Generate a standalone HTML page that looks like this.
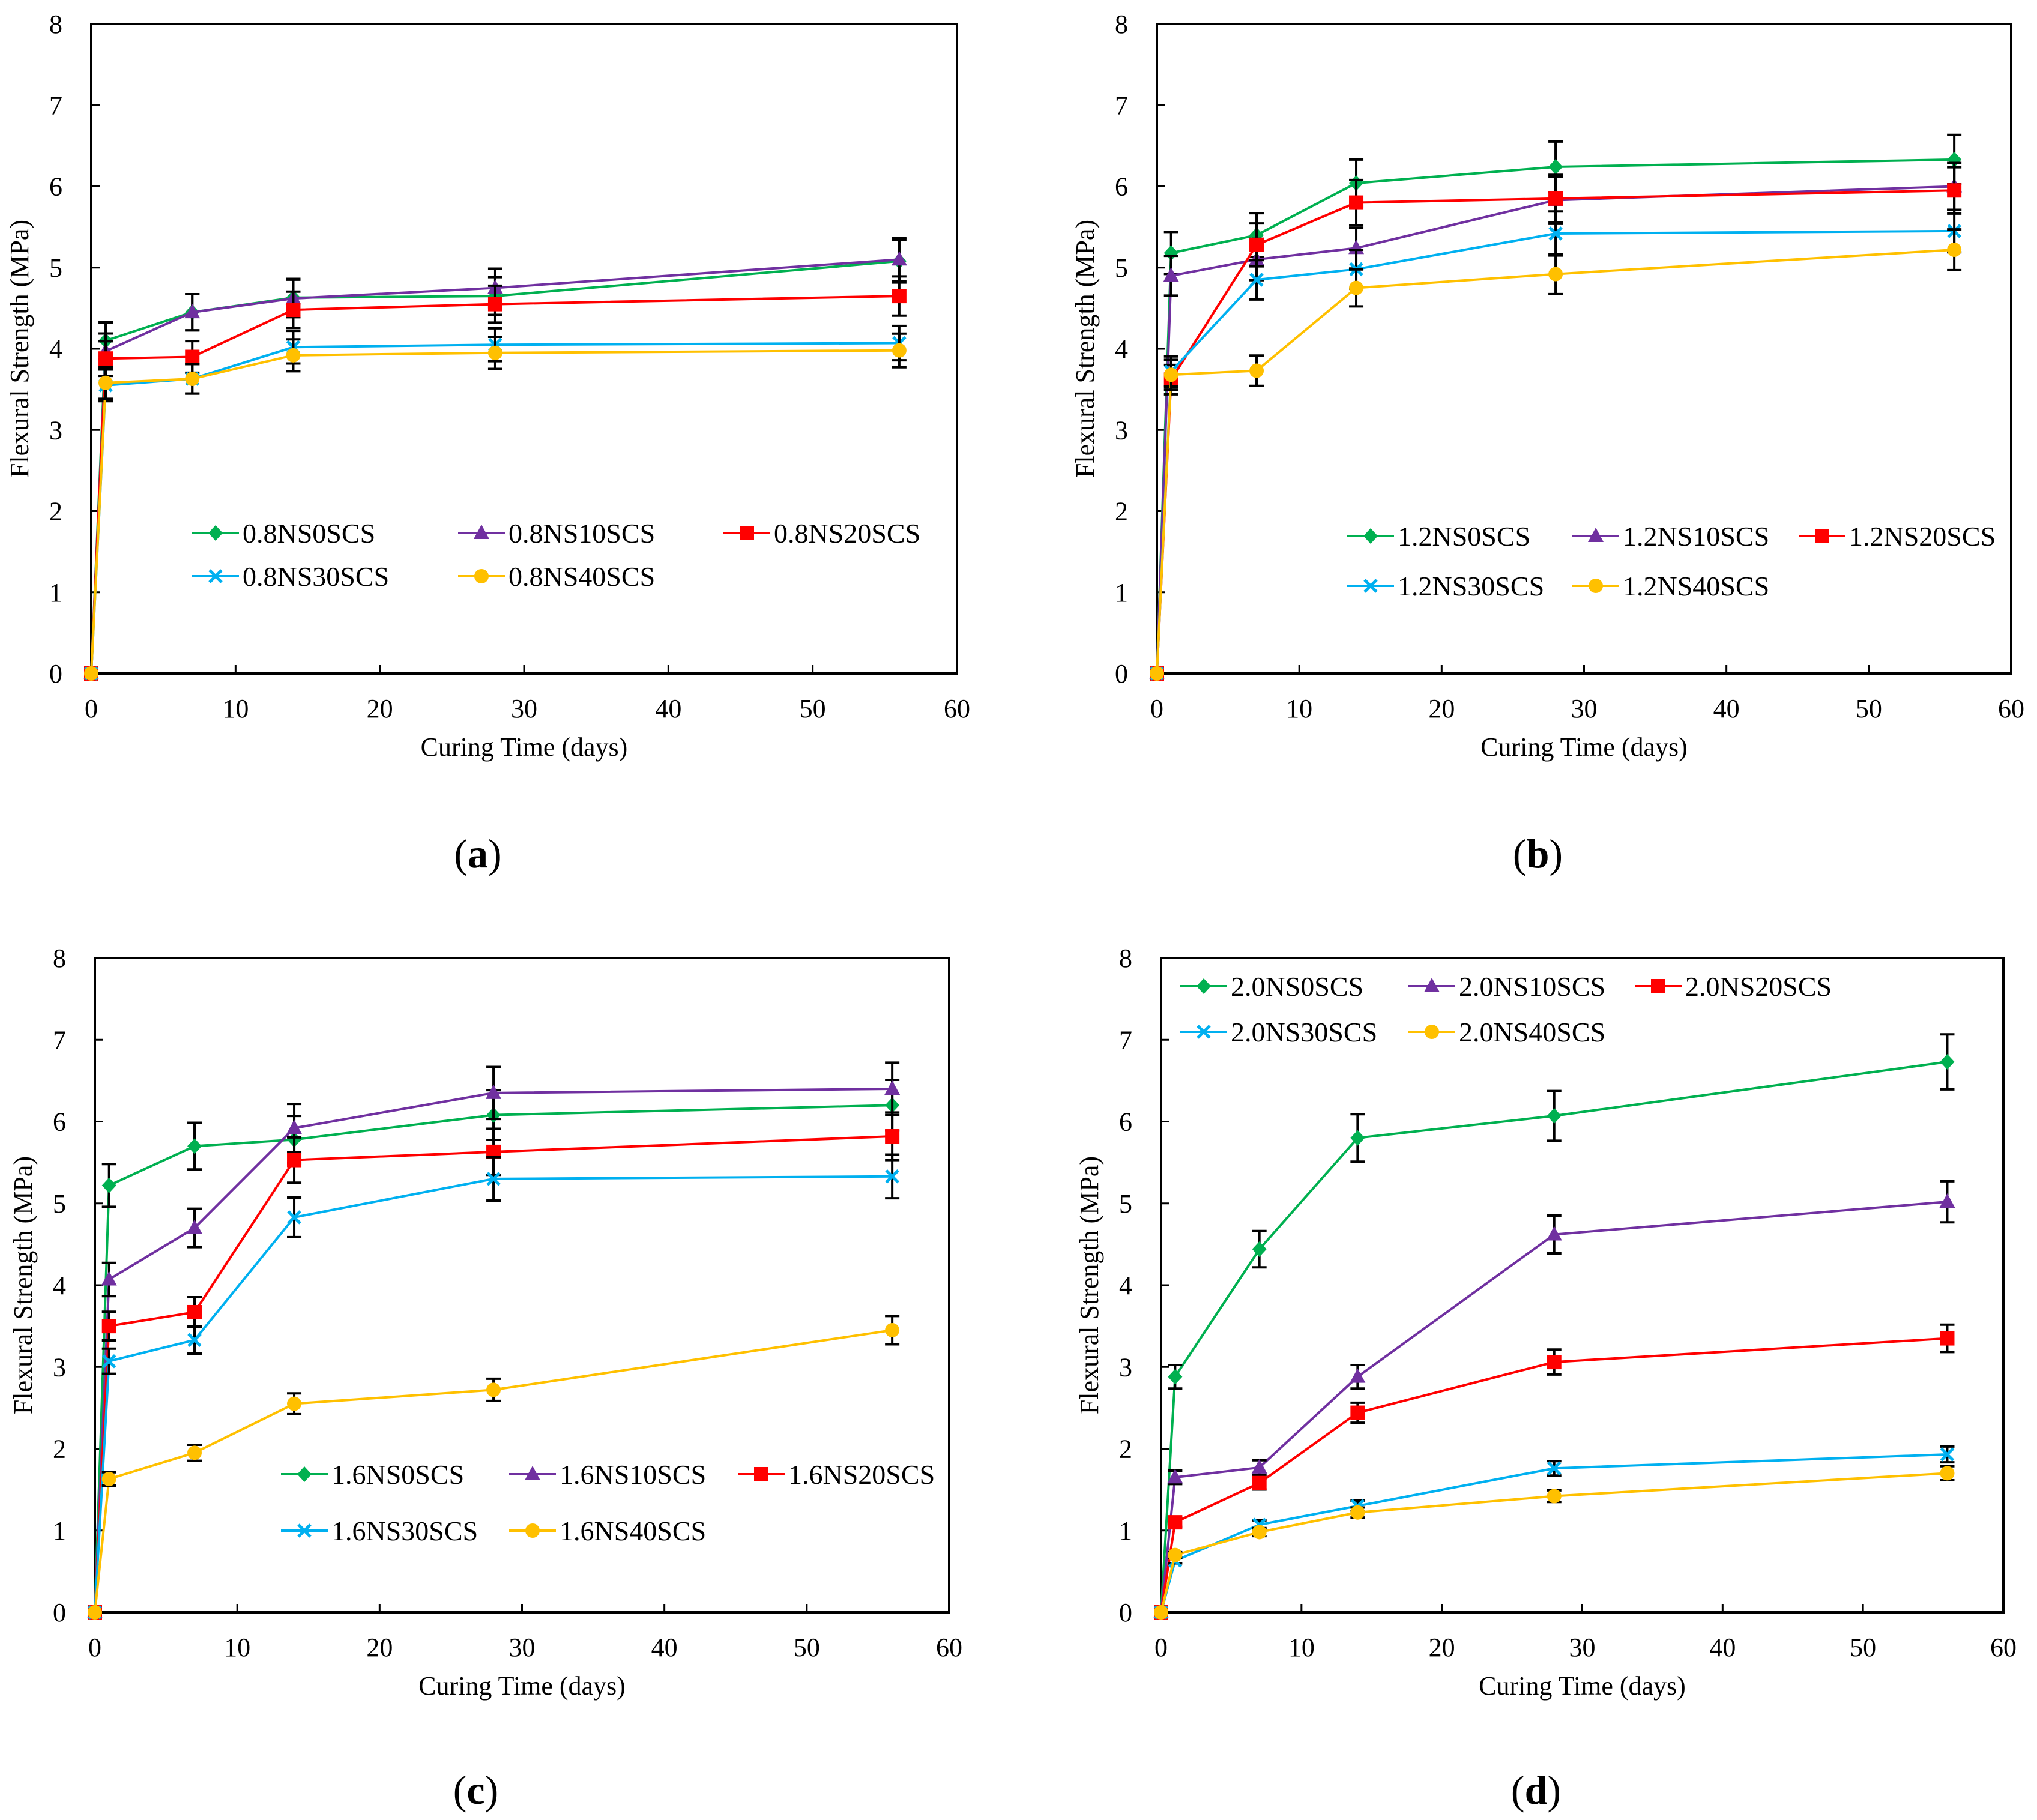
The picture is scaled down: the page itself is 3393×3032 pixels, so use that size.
<!DOCTYPE html>
<html><head><meta charset="utf-8"><style>
html,body{margin:0;padding:0;background:#fff;}
svg{display:block;font-family:"Liberation Serif",serif;}
</style></head><body>
<svg id="fig" width="3393" height="3032" viewBox="0 0 3393 3032" xmlns="http://www.w3.org/2000/svg"></svg>
<script>
const days = [0, 1, 7, 14, 28, 56];
const seriesSuffix = ["NS0SCS", "NS10SCS", "NS20SCS", "NS30SCS", "NS40SCS"];
const prefixA = "0.8", prefixB = "1.2", prefixC = "1.6", prefixD = "2.0";
const panelLetters = ["a", "b", "c", "d"];
const yTicks = [0, 1, 2, 3, 4, 5, 6, 7, 8];
const xTicks = [0, 10, 20, 30, 40, 50, 60];

const a_ns0  = [0, 4.10, 4.45, 4.63, 4.65, 5.08];
const a_ns10 = [0, 3.97, 4.45, 4.62, 4.75, 5.10];
const a_ns20 = [0, 3.88, 3.90, 4.48, 4.55, 4.65];
const a_ns30 = [0, 3.55, 3.63, 4.02, 4.05, 4.07];
const a_ns40 = [0, 3.58, 3.63, 3.92, 3.95, 3.98];
const a_errFrac = [0, 0.055, 0.05, 0.05, 0.05, 0.052];

const b_ns0  = [0, 5.18, 5.40, 6.04, 6.24, 6.33];
const b_ns10 = [0, 4.90, 5.10, 5.24, 5.83, 6.00];
const b_ns20 = [0, 3.62, 5.28, 5.80, 5.85, 5.95];
const b_ns30 = [0, 3.72, 4.85, 4.98, 5.42, 5.45];
const b_ns40 = [0, 3.68, 3.73, 4.75, 4.92, 5.22];
const b_errFrac = [0, 0.05, 0.05, 0.048, 0.05, 0.048];

const c_ns0  = [0, 5.22, 5.70, 5.78, 6.08, 6.20];
const c_ns10 = [0, 4.07, 4.70, 5.92, 6.35, 6.40];
const c_ns20 = [0, 3.50, 3.67, 5.53, 5.63, 5.82];
const c_ns30 = [0, 3.07, 3.33, 4.83, 5.30, 5.33];
const c_ns40 = [0, 1.63, 1.95, 2.55, 2.72, 3.45];
const c_errFrac = [0, 0.05, 0.05, 0.05, 0.05, 0.05];

const d_ns0  = [0, 2.88, 4.44, 5.80, 6.07, 6.73];
const d_ns10 = [0, 1.65, 1.77, 2.88, 4.62, 5.02];
const d_ns20 = [0, 1.10, 1.58, 2.44, 3.06, 3.35];
const d_ns30 = [0, 0.63, 1.07, 1.30, 1.76, 1.93];
const d_ns40 = [0, 0.70, 0.98, 1.22, 1.42, 1.70];
const d_errFrac = [0, 0.05, 0.05, 0.05, 0.05, 0.05];

const colors = ["#00b050", "#7030a0", "#ff0000", "#00b0f0", "#ffc000"];
const markers = ["diamond", "triangle", "square", "cross", "circle"];

const panels = [
  {pre: prefixA, data: [a_ns0,a_ns10,a_ns20,a_ns30,a_ns40], err: a_errFrac, L:152, R:1594, T:40, B:1122,
   legRows:[888,960], legCols:[320,763,1205], labelY:1445},
  {pre: prefixB, data: [b_ns0,b_ns10,b_ns20,b_ns30,b_ns40], err: b_errFrac, L:1927, R:3350, T:40, B:1122,
   legRows:[893,976], legCols:[2244,2619,2996], labelY:1445},
  {pre: prefixC, data: [c_ns0,c_ns10,c_ns20,c_ns30,c_ns40], err: c_errFrac, L:158, R:1581, T:1596, B:2686,
   legRows:[2456,2550], legCols:[468,848,1229], labelY:3005},
  {pre: prefixD, data: [d_ns0,d_ns10,d_ns20,d_ns30,d_ns40], err: d_errFrac, L:1934, R:3337, T:1596, B:2686,
   legRows:[1643,1719], legCols:[1966,2346,2723], labelY:3005}
];

const NS = "http://www.w3.org/2000/svg";
const svg = document.getElementById("fig");
function mk(tag, attrs, parent) {
  const e = document.createElementNS(NS, tag);
  for (const k in attrs) e.setAttribute(k, attrs[k]);
  (parent || svg).appendChild(e);
  return e;
}
function drawMarker(g, type, x, y, c) {
  let m;
  if (type === "diamond") m = mk("polygon", {points: `${x},${y-13} ${x+12},${y} ${x},${y+13} ${x-12},${y}`, fill: c}, g);
  else if (type === "triangle") m = mk("polygon", {points: `${x},${y-14} ${x+13},${y+10} ${x-13},${y+10}`, fill: c}, g);
  else if (type === "square") m = mk("rect", {x: x-12, y: y-12, width: 24, height: 24, fill: c}, g);
  else if (type === "circle") m = mk("circle", {cx: x, cy: y, r: 12, fill: c}, g);
  else {
    m = mk("path", {d: `M${x-10},${y-10}L${x+10},${y+10}M${x-10},${y+10}L${x+10},${y-10}`, stroke: c, "stroke-width": 5, fill: "none"}, g);
  }
  return m;
}

panels.forEach((p, pi) => {
  const g = mk("g", {});
  
  
  const xs = v => p.L + (v / 60) * (p.R - p.L);
  const ys = v => p.B - (v / 8) * (p.B - p.T);

  const frame = mk("rect", {x: p.L, y: p.T, width: p.R - p.L, height: p.B - p.T, fill: "none", stroke: "#000", "stroke-width": 4}, g);
  
  

  yTicks.forEach(t => {
    const y = ys(t);
    const tk = mk("line", {x1: p.L, x2: p.L + 14, y1: y, y2: y, stroke: "#000", "stroke-width": 3}, g);
    
    
    const lb = mk("text", {x: p.L - 48, y: y + 15, "font-size": 44, "text-anchor": "end", fill: "#000"}, g);
    lb.textContent = t;
    
    
  });
  xTicks.forEach(t => {
    const x = xs(t);
    const tk = mk("line", {x1: x, x2: x, y1: p.B, y2: p.B - 14, stroke: "#000", "stroke-width": 3}, g);
    
    
    const lb = mk("text", {x: x, y: p.B + 73, "font-size": 44, "text-anchor": "middle", fill: "#000"}, g);
    lb.textContent = t;
    
    
  });

  const xt = mk("text", {x: (p.L + p.R) / 2, y: p.B + 137, "font-size": 44, "text-anchor": "middle", fill: "#000"}, g);
  xt.textContent = "Curing Time (days)";
  
  
  const cy = (p.T + p.B) / 2;
  const yx = p.L - 105;
  const yt = mk("text", {x: yx, y: cy, "font-size": 44, "text-anchor": "middle", fill: "#000", transform: `rotate(-90 ${yx} ${cy})`}, g);
  yt.textContent = "Flexural Strength (MPa)";
  
  

  p.data.forEach((vals, si) => {
    const sg = mk("g", {}, g);
    
    
    const pts = vals.map((v, i) => `${xs(days[i])},${ys(v)}`).join(" ");
    const ln = mk("polyline", {points: pts, fill: "none", stroke: colors[si], "stroke-width": 4}, sg);
    
    
    vals.forEach((v, i) => {
      const e = p.err[i] * v;
      if (e > 0) {
        const x = xs(days[i]);
        const eb = mk("path", {d: `M${x},${ys(v+e)}V${ys(v-e)}M${x-12},${ys(v+e)}H${x+12}M${x-12},${ys(v-e)}H${x+12}`, stroke: "#000", "stroke-width": 4, fill: "none"}, sg);
        
        
      }
    });
    vals.forEach((v, i) => {
      const m = drawMarker(sg, markers[si], xs(days[i]), ys(v), colors[si]);
      
      
    });
  });

  const lg = mk("g", {}, g);
  
  
  seriesSuffix.forEach((s, si) => {
    const row = si < 3 ? 0 : 1, col = si < 3 ? si : si - 3;
    const x0 = p.legCols[col], y0 = p.legRows[row];
    const eg = mk("g", {}, lg);
    
    
    mk("line", {x1: x0, x2: x0 + 78, y1: y0, y2: y0, stroke: colors[si], "stroke-width": 4}, eg);
    drawMarker(eg, markers[si], x0 + 39, y0, colors[si]);
    const t = mk("text", {x: x0 + 84, y: y0 + 16, "font-size": 46, fill: "#000"}, eg);
    t.textContent = p.pre + s;
  });

  const pl = mk("text", {x: (p.L + p.R) / 2 - 77, y: p.labelY, "font-size": 68, "text-anchor": "middle", fill: "#000"}, g);
  
  
  const t1 = mk("tspan", {}, pl); t1.textContent = "(";
  const t2 = mk("tspan", {"font-weight": "bold"}, pl); t2.textContent = panelLetters[pi];
  const t3 = mk("tspan", {}, pl); t3.textContent = ")";
});
</script>
</body></html>
